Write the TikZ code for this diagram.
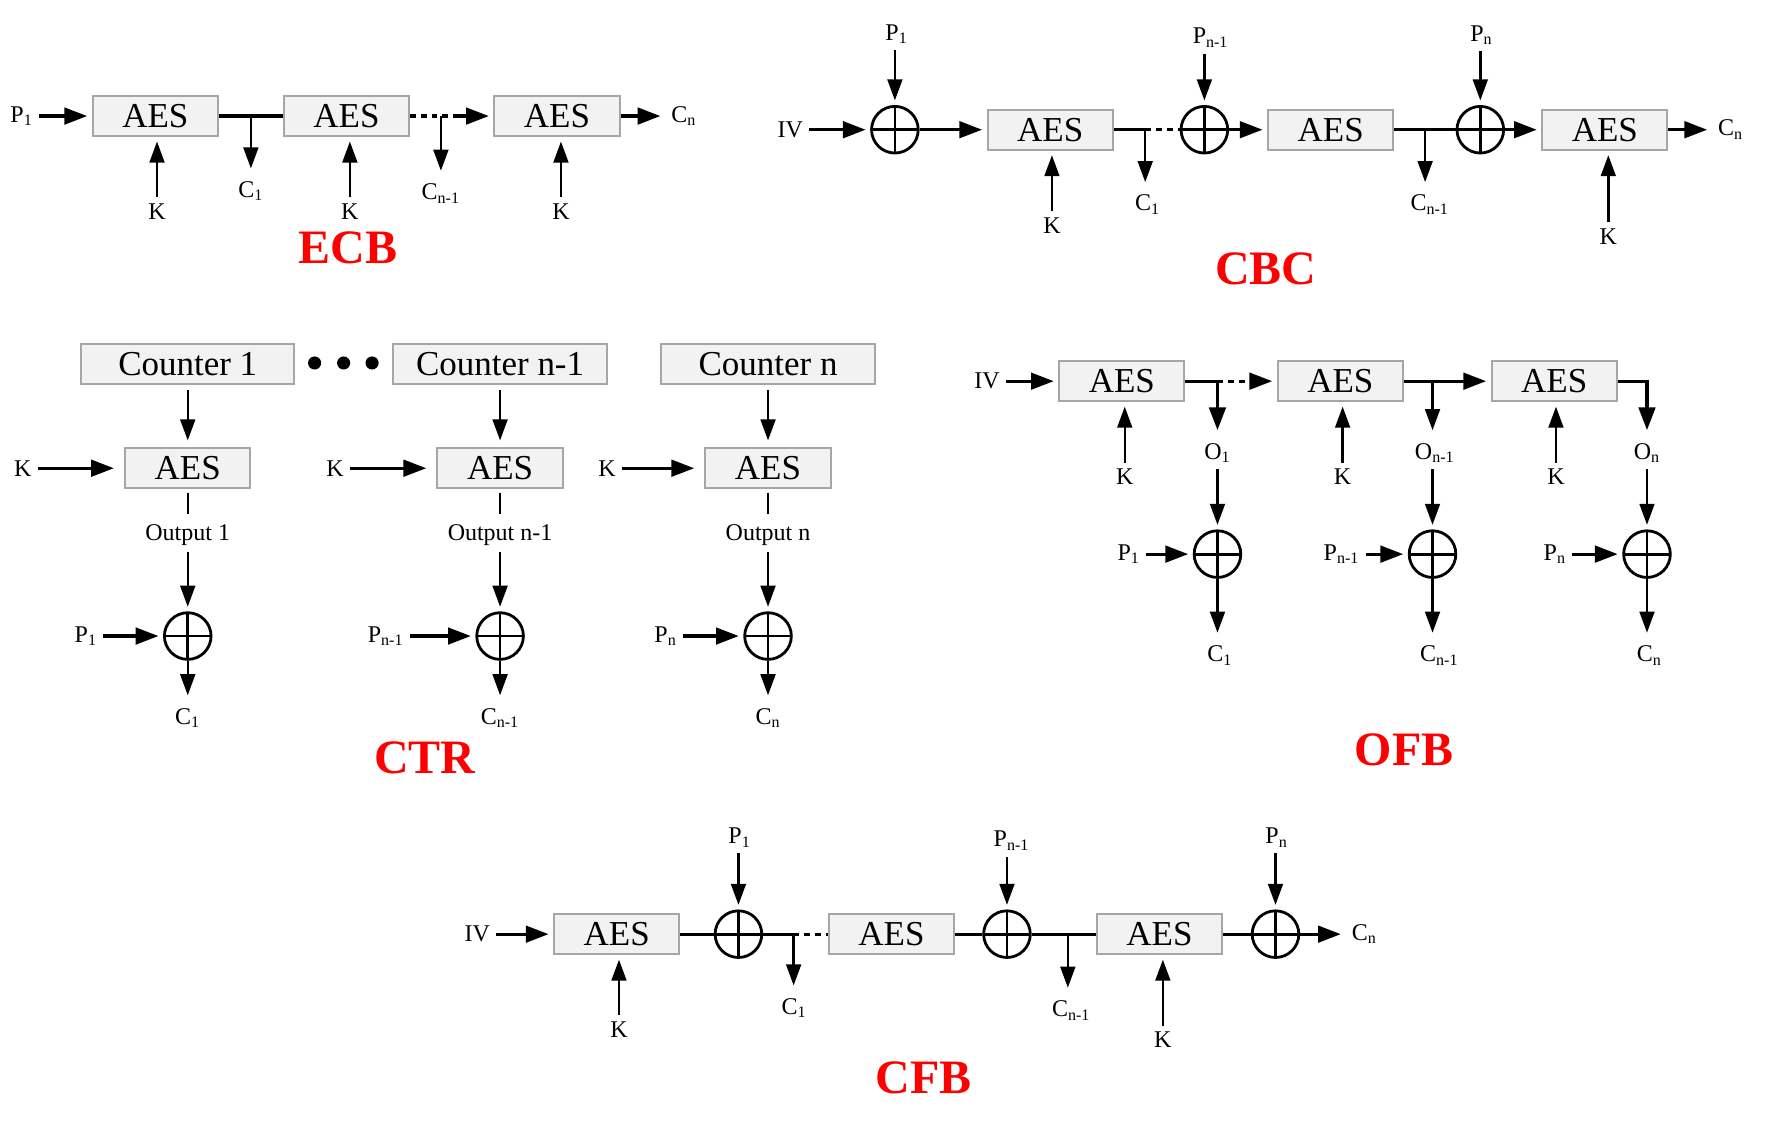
\documentclass[tikz,border=0pt]{standalone}
\usepackage{fontspec}
\setmainfont{Liberation Serif}
\usetikzlibrary{arrows.meta}
\definecolor{BoxFill}{HTML}{F2F2F2}
\definecolor{BoxLine}{HTML}{A6A6A6}
\tikzset{%
  blk/.style={rectangle, draw=BoxLine, fill=BoxFill, line width=1pt, minimum width=22mm, minimum height=7mm, inner sep=0pt, font=\fontsize{17.5}{18}\selectfont},
  ctrblk/.style={blk, minimum width=37.5mm},
  xor/.style={circle, draw, line width=1.4pt, minimum size=8.2mm, inner sep=0pt,
    path picture={\draw[line width=1.4pt] (path picture bounding box.north) -- (path picture bounding box.south)
      (path picture bounding box.west) -- (path picture bounding box.east);}},
  lbl/.style={inner sep=3pt, font=\fontsize{12}{14}\selectfont},
  ttl/.style={text=red, font=\fontsize{24}{28}\selectfont\bfseries},
  flow/.style={-{Triangle[length=4mm,width=2.9mm]}, line width=1.6pt, shorten >=0.8mm},
  link/.style={-{Triangle[length=3.7mm,width=2.6mm]}, line width=1.2pt, shorten >=0.8mm},
  tolbl/.style={shorten >=1.15mm},
  wire/.style={line width=1.6pt},
  dotwire/.style={line width=1.6pt, dash pattern=on 1mm off 0.9mm}
}
\begin{document}
\begin{tikzpicture}[x=0.2mm, y=-0.2mm]
\useasboundingbox (0,0) rectangle (1560,991);

% ECB
\node[lbl] (ep1) at (19,102) {P\textsubscript{1}};
\node[blk] (ea1) at (136.5,102) {AES};
\node[blk] (ea2) at (304.5,102) {AES};
\node[blk] (ea3) at (489.5,102) {AES};
\node[lbl] (ecn) at (601,102) {C\textsubscript{n}};
\coordinate (eb1) at (220.5,102);
\coordinate (eb2) at (387.5,102);
\coordinate (ed) at (403,102);
\node[lbl] (ec1) at (220.5,168) {C\textsubscript{1}};
\node[lbl] (ec2) at (387.5,170) {C\textsubscript{n-1}};
\node[lbl] (ek1) at (138,186) {K};
\node[lbl] (ek2) at (307.5,186) {K};
\node[lbl] (ek3) at (493,186) {K};
\node[ttl] at (306,218) {ECB};

\draw[flow] (ep1) -- (ea1);
\draw[wire] (ea1) -- (ea2);
\draw[link,tolbl] (eb1) -- (eb1 |- ec1.north);
\draw[dotwire] (ea2) -- (ed);
\draw[flow] (ed) -- (ea3);
\draw[link,tolbl] (eb2) -- (eb2 |- ec2.north);
\draw[flow] (ea3) -- (ecn);
\draw[link] (ek1) -- (ek1 |- ea1.south);
\draw[link] (ek2) -- (ek2 |- ea2.south);
\draw[link] (ek3) -- (ek3 |- ea3.south);

% CBC
\node[lbl] (civ) at (694.5,114) {IV};
\node[xor] (cx1) at (786.5,114) {};
\node[blk] (ca1) at (923,114) {AES};
\node[xor] (cx2) at (1058.5,114) {};
\node[blk] (ca2) at (1169.5,114) {AES};
\node[xor] (cx3) at (1301,114) {};
\node[blk] (ca3) at (1410.5,114) {AES};
\node[lbl] (ccn) at (1521,114) {C\textsubscript{n}};
\node[lbl] (cp1) at (788,30) {P\textsubscript{1}};
\node[lbl] (cp2) at (1064,33) {P\textsubscript{n-1}};
\node[lbl] (cp3) at (1302,31) {P\textsubscript{n}};
\coordinate (cb1) at (1006.5,114);
\coordinate (cb2) at (1252.5,114);
\node[lbl] (cc1) at (1008.5,180) {C\textsubscript{1}};
\node[lbl] (cc2) at (1256.5,180) {C\textsubscript{n-1}};
\node[lbl] (ck1) at (924.5,198) {K};
\node[lbl] (ck3) at (1413.5,208) {K};
\node[ttl] at (1112.5,236) {CBC};

\draw[flow] (civ) -- (cx1);
\draw[flow] (cx1) -- (ca1);
\draw[wire] (ca1) -- (cb1);
\draw[dotwire] (cb1) -- (cx2);
\draw[flow] (cx2) -- (ca2);
\draw[wire] (ca2) -- (cx3);
\draw[flow] (cx3) -- (ca3);
\draw[flow] (ca3) -- (ccn);
\draw[link] (cx1 |- cp1.south) -- (cx1);
\draw[link] (cx2 |- cp2.south) -- (cx2);
\draw[link] (cx3 |- cp3.south) -- (cx3);
\draw[link,tolbl] (cb1) -- (cb1 |- cc1.north);
\draw[link,tolbl] (cb2) -- (cb2 |- cc2.north);
\draw[link] (ck1) -- (ck1 |- ca1.south);
\draw[link] (ck3) -- (ck3 |- ca3.south);

% CTR
\node[ctrblk] (tn1) at (165,320) {Counter 1};
\node[ctrblk] (tn2) at (439.5,320) {Counter n-1};
\node[ctrblk] (tn3) at (675,320) {Counter n};
\fill (276.5,319) circle (1.15mm) (302,319) circle (1.15mm) (327,319) circle (1.15mm);
\node[blk] (ta1) at (165,411.5) {AES};
\node[blk] (ta2) at (439.5,411.5) {AES};
\node[blk] (ta3) at (675,411.5) {AES};
\node[lbl] (tk1) at (20,411.5) {K};
\node[lbl] (tk2) at (294.5,411.5) {K};
\node[lbl] (tk3) at (533.5,411.5) {K};
\node[lbl] (to1) at (165,470) {Output 1};
\node[lbl] (to2) at (439.5,470) {Output n-1};
\node[lbl] (to3) at (675,470) {Output n};
\node[xor] (tx1) at (165,559) {};
\node[xor] (tx2) at (439.5,559) {};
\node[xor] (tx3) at (675,559) {};
\node[lbl] (tp1) at (75.5,559) {P\textsubscript{1}};
\node[lbl] (tp2) at (339,559) {P\textsubscript{n-1}};
\node[lbl] (tp3) at (585,559) {P\textsubscript{n}};
\node[lbl] (tc1) at (165,631) {C\textsubscript{1}};
\node[lbl] (tc2) at (439.5,631) {C\textsubscript{n-1}};
\node[lbl] (tc3) at (675,631) {C\textsubscript{n}};
\node[ttl] at (373.5,666) {CTR};

\draw[link, shorten <=0.8mm, shorten >=1.2mm] (tn1) -- (ta1);
\draw[link, shorten <=0.8mm, shorten >=1.2mm] (tn2) -- (ta2);
\draw[link, shorten <=0.8mm, shorten >=1.2mm] (tn3) -- (ta3);
\draw[flow, shorten >=1.8mm] (tk1) -- (ta1);
\draw[flow, shorten >=1.8mm] (tk2) -- (ta2);
\draw[flow, shorten >=1.8mm] (tk3) -- (ta3);
\draw[line width=1.2pt, shorten <=0.6mm, shorten >=0.6mm] (ta1) -- (to1);
\draw[line width=1.2pt, shorten <=0.6mm, shorten >=0.6mm] (ta2) -- (to2);
\draw[line width=1.2pt, shorten <=0.6mm, shorten >=0.6mm] (ta3) -- (to3);
\draw[link] (to1) -- (tx1);
\draw[link] (to2) -- (tx2);
\draw[link] (to3) -- (tx3);
\draw[flow] (tp1) -- (tx1);
\draw[flow] (tp2) -- (tx2);
\draw[flow] (tp3) -- (tx3);
\draw[link,tolbl] (tx1) -- (tc1);
\draw[link,tolbl] (tx2) -- (tc2);
\draw[link,tolbl] (tx3) -- (tc3);

% OFB
\node[lbl] (oiv) at (867.5,335) {IV};
\node[blk] (oa1) at (986,335) {AES};
\node[blk] (oa2) at (1178,335) {AES};
\node[blk] (oa3) at (1366,335) {AES};
\coordinate (ob1) at (1070,335);
\coordinate (od) at (1100.5,335);
\coordinate (ob2) at (1259,335);
\node[lbl] (oo1) at (1070,398) {O\textsubscript{1}};
\node[lbl] (oo2) at (1261,398) {O\textsubscript{n-1}};
\node[lbl] (oo3) at (1447.5,398) {O\textsubscript{n}};
\node[lbl] (ok1) at (988.5,419) {K};
\node[lbl] (ok2) at (1180,419) {K};
\node[lbl] (ok3) at (1367.5,419) {K};
\node[xor] (ox1) at (1070,487) {};
\node[xor] (ox2) at (1259,487) {};
\node[xor] (ox3) at (1447.5,487) {};
\node[lbl] (op1) at (992,487) {P\textsubscript{1}};
\node[lbl] (op2) at (1179,487) {P\textsubscript{n-1}};
\node[lbl] (op3) at (1366.5,487) {P\textsubscript{n}};
\node[lbl] (oc1) at (1072,576) {C\textsubscript{1}};
\node[lbl] (oc2) at (1265,576) {C\textsubscript{n-1}};
\node[lbl] (oc3) at (1449.5,576) {C\textsubscript{n}};
\node[ttl] at (1234,659) {OFB};

\draw[flow] (oiv) -- (oa1);
\draw[flow,tolbl] (oa1) -| (oo1.north);
\draw[dotwire] (ob1) -- (od);
\draw[flow] (od) -- (oa2);
\draw[flow] (oa2) -- (oa3);
\draw[link,tolbl] (ob2) -- (ob2 |- oo2.north);
\draw[flow,tolbl] (oa3) -| (oo3.north);
\draw[link] (ok1) -- (ok1 |- oa1.south);
\draw[link] (ok2) -- (ok2 |- oa2.south);
\draw[link] (ok3) -- (ok3 |- oa3.south);
\draw[link] (ox1 |- oo1.south) -- (ox1);
\draw[link] (ox2 |- oo2.south) -- (ox2);
\draw[link] (ox3 |- oo3.south) -- (ox3);
\draw[flow] (op1) -- (ox1);
\draw[flow] (op2) -- (ox2);
\draw[flow] (op3) -- (ox3);
\draw[link,tolbl] (ox1) -- (ox1 |- oc1.north);
\draw[link,tolbl] (ox2) -- (ox2 |- oc2.north);
\draw[link,tolbl] (ox3) -- (ox3 |- oc3.north);

% CFB
\node[lbl] (fiv) at (419.5,821) {IV};
\node[blk] (fa1) at (542,821) {AES};
\node[xor] (fx1) at (649,821) {};
\coordinate (fb1) at (697.5,821);
\node[blk] (fa2) at (783.5,821) {AES};
\node[xor] (fx2) at (885,821) {};
\coordinate (fb2) at (938.5,821);
\node[blk] (fa3) at (1019,821) {AES};
\node[xor] (fx3) at (1121,821) {};
\node[lbl] (fcn) at (1199,821) {C\textsubscript{n}};
\node[lbl] (fp1) at (650,736) {P\textsubscript{1}};
\node[lbl] (fp2) at (889,739) {P\textsubscript{n-1}};
\node[lbl] (fp3) at (1122,736) {P\textsubscript{n}};
\node[lbl] (fc1) at (698,886) {C\textsubscript{1}};
\node[lbl] (fc2) at (941.5,888) {C\textsubscript{n-1}};
\node[lbl] (fk1) at (544,905) {K};
\node[lbl] (fk3) at (1022,914) {K};
\node[ttl] at (811.5,947) {CFB};

\draw[flow] (fiv) -- (fa1);
\draw[wire] (fa1) -- (fx1);
\draw[wire] (fx1) -- (fb1);
\draw[dotwire] (fb1) -- (fa2);
\draw[wire] (fa2) -- (fx2);
\draw[wire] (fx2) -- (fa3);
\draw[wire] (fa3) -- (fx3);
\draw[flow] (fx3) -- (fcn);
\draw[link] (fx1 |- fp1.south) -- (fx1);
\draw[link] (fx2 |- fp2.south) -- (fx2);
\draw[link] (fx3 |- fp3.south) -- (fx3);
\draw[link,tolbl] (fb1) -- (fb1 |- fc1.north);
\draw[link,tolbl] (fb2) -- (fb2 |- fc2.north);
\draw[link] (fk1) -- (fk1 |- fa1.south);
\draw[link] (fk3) -- (fk3 |- fa3.south);

\end{tikzpicture}
\end{document}
